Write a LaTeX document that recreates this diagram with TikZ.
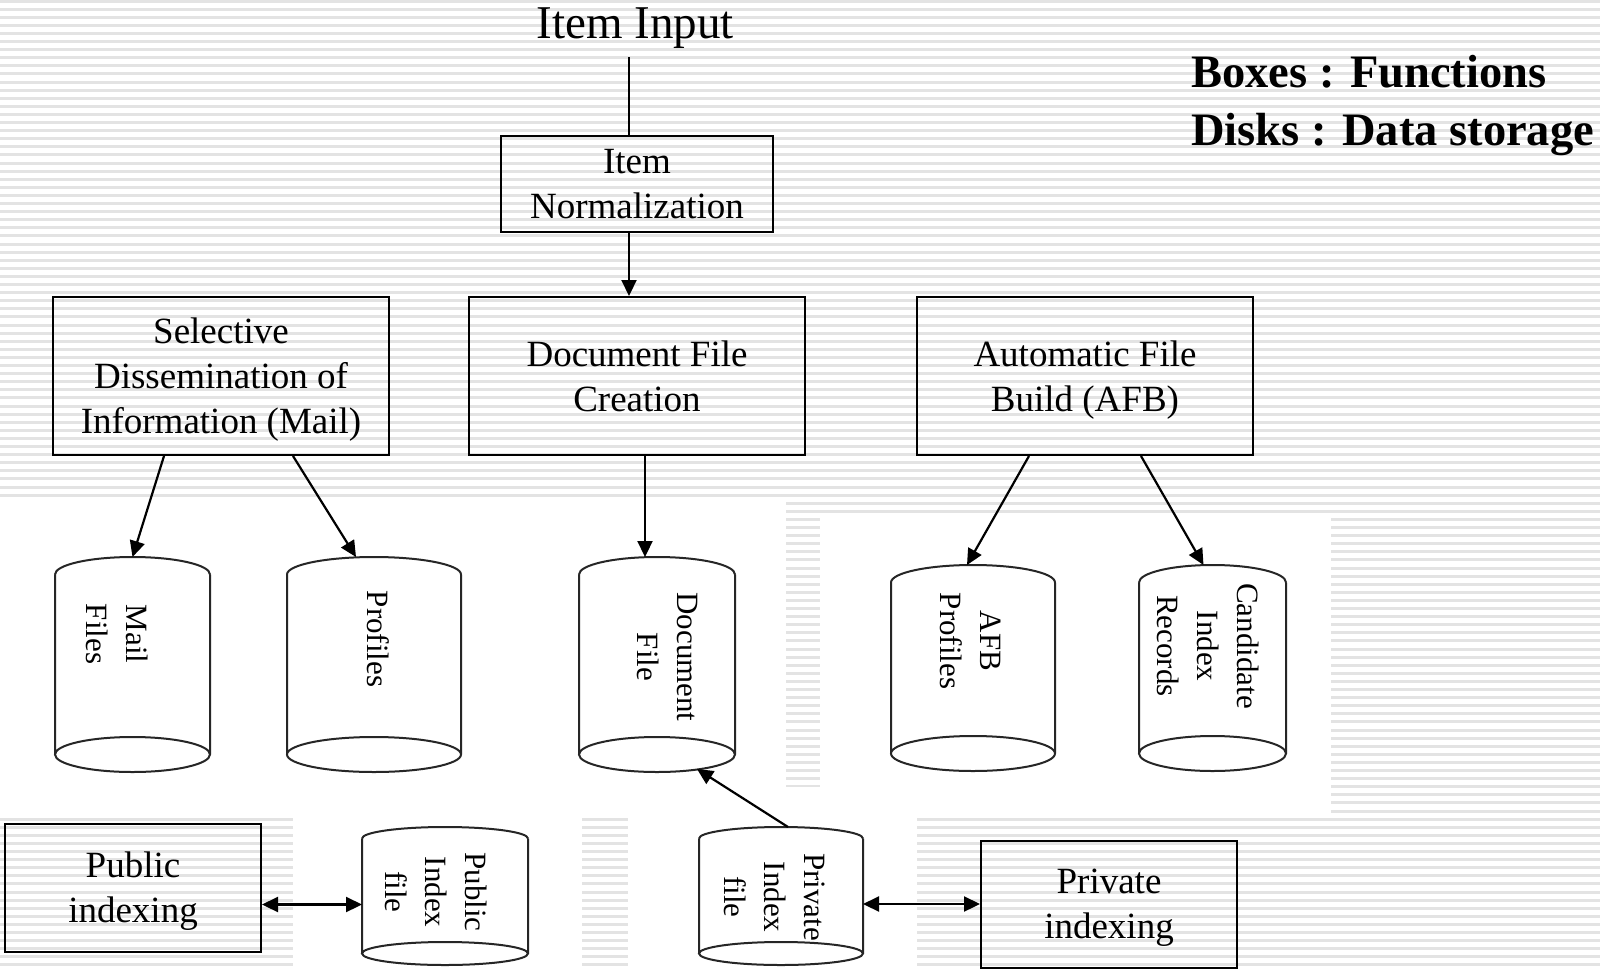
\documentclass[tikz,border=0pt]{standalone}
\usepackage{fontspec}
\setmainfont{Liberation Serif}
\usetikzlibrary{arrows.meta,calc}

\tikzset{
  func/.style={draw,line width=2pt,inner sep=0pt,text depth=0pt,align=center,font=\fontsize{37}{45}\selectfont},
  disk/.style={inner sep=0pt,outer sep=0pt},
  disklbl/.style={rotate=-90,inner sep=0pt,align=center,font=\fontsize{31}{40}\selectfont},
  arr/.style={line width=2.2pt,-{Triangle[length=16pt,width=15pt]}},
  dbl/.style={line width=2.2pt,{Triangle[length=16pt,width=15pt]}-{Triangle[length=16pt,width=15pt]}},
  stripe/.style={line width=3pt,gray!22}
}
\newcommand\drawdisk[2]{%
  \draw[line width=2pt,black!85] let \p1=(#1.north west), \p2=(#1.south east) in
    (\x1,\y1-#2) arc[start angle=180,end angle=0,x radius={(\x2-\x1)/2},y radius=#2]
    (\x1,\y1-#2) -- (\x1,\y2+#2)
    (\x2,\y1-#2) -- (\x2,\y2+#2)
    ({(\x1+\x2)/2},\y2+#2) ellipse[x radius={(\x2-\x1)/2},y radius=#2];
}

\begin{document}
\begin{tikzpicture}[x=1pt,y=1pt]
      \useasboundingbox (0,0) rectangle (1600,-969);
      % Fondo rayado
      \foreach \i in {0,...,119}
        \draw[stripe] (0,-1-8.1*\i) -- (1600,-1-8.1*\i);
      \fill[white] (0,-497) rectangle (786,-815);
      \fill[white] (786,-787) rectangle (820,-818);
      \fill[white] (820,-513) rectangle (1331,-818);
      \fill[white] (293,-815) rectangle (582,-969);
      \fill[white] (628,-815) rectangle (917,-969);
      % Funciones
      \node[font=\fontsize{47}{56}\selectfont,inner sep=9pt,anchor=base] (input) at (635,-38) {Item Input};
      \node[func,minimum width=272pt,minimum height=96pt] (norm) at (637,-184) {Item\\Normalization};
      \node[func,minimum width=336pt,minimum height=158pt] (sdi) at (221,-376) {Selective\\Dissemination of\\Information (Mail)};
      \node[func,minimum width=336pt,minimum height=158pt] (dfc) at (637,-376) {Document File\\Creation};
      \node[func,minimum width=336pt,minimum height=158pt] (afb) at (1085,-376) {Automatic File\\Build (AFB)};
      \node[func,minimum width=256pt,minimum height=128pt] (pubx) at (133,-887.5) {Public\\indexing};
      \node[func,minimum width=256pt,minimum height=127pt] (privx) at (1109,-904) {Private\\indexing};
      % Leyenda
      \node[font=\fontsize{46.5}{58}\selectfont\bfseries,inner sep=0pt,anchor=base west] (leg1) at (1191,-87) {Boxes : Functions};
      \node[font=\fontsize{46.5}{58}\selectfont\bfseries,inner sep=0pt,anchor=base west] (leg2) at (1191,-145) {Disks : Data storage};
      % Discos
      \node[disk,minimum width=155pt,minimum height=215pt] (mailf) at (132.5,-664.5) {};
      \node[disk,minimum width=174pt,minimum height=215pt] (prof) at (374,-664.5) {};
      \node[disk,minimum width=156pt,minimum height=215pt] (docf) at (657,-664.5) {};
      \node[disk,minimum width=164pt,minimum height=206pt] (afbp) at (973,-668) {};
      \node[disk,minimum width=147pt,minimum height=206pt] (cand) at (1212.5,-668) {};
      \node[disk,minimum width=166pt,minimum height=138pt] (pubf) at (445,-896) {};
      \node[disk,minimum width=164pt,minimum height=138pt] (privf) at (781,-896) {};
      \foreach \d in {mailf,prof,docf,afbp,cand} \drawdisk{\d}{17.5pt};
      \foreach \d in {pubf,privf} \drawdisk{\d}{11.5pt};
      \node[disklbl] (mailf-l) at (117,-634) {Mail\\Files};
      \node[disklbl] (prof-l) at (378,-639) {Profiles};
      \node[disklbl] (docf-l) at (667,-657) {Document\\File};
      \node[disklbl] (afbp-l) at (971,-641) {AFB\\Profiles};
      \node[disklbl] (cand-l) at (1208,-646) {Candidate\\Index\\Records};
      \node[disklbl] (pubf-l) at (436,-892) {Public\\Index\\file};
      \node[disklbl] (privf-l) at (775,-897) {Private\\Index\\file};
      % Aristas
      \draw[line width=2pt] ([xshift=-8pt]norm.north) -- ([xshift=-8pt]norm.north |- input.south);
      \draw[arr] ([xshift=-8pt]norm.south) -- ([xshift=-8pt]dfc.north);
      \draw[arr] ([xshift=-57pt]sdi.south) -- (mailf.north);
      \draw[arr] ([xshift=72pt]sdi.south) -- ([xshift=-18pt]prof.north);
      \draw[arr] ([xshift=8pt]dfc.south) -- ([xshift=-12pt]docf.north);
      \draw[arr] ([xshift=-56pt]afb.south) -- ([xshift=-6pt]afbp.north);
      \draw[arr] ([xshift=56pt]afb.south) -- ([xshift=-9pt]cand.north);
      \draw[arr] ([xshift=7pt]privf.north) -- ([xshift=40pt,yshift=3pt]docf.south);
      \draw[dbl] ([yshift=-17pt]pubx.east) -- ([yshift=-17pt]pubx.east -| pubf.west);
      \draw[dbl] (privx.west) -- (privx.west -| privf.east);
\end{tikzpicture}
\end{document}
